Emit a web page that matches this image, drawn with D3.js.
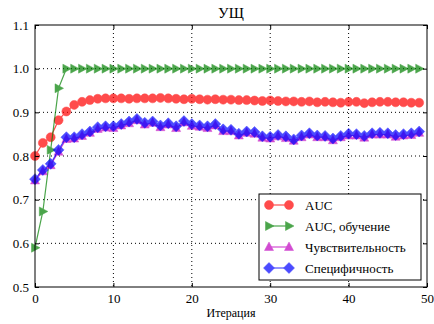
<!DOCTYPE html>
<html>
<head>
<meta charset="utf-8">
<script src="https://cdn.jsdelivr.net/npm/d3@7"></script>
<style>
  body { margin: 0; background: #fff; }
</style>
</head>
<body>
<div id="chart"></div>
<script>
// data
var iterations = d3.range(0, 50);
var aucValues = [0.800, 0.830, 0.843, 0.882, 0.902, 0.917, 0.924, 0.928, 0.931, 0.932,
  0.932, 0.932, 0.931, 0.932, 0.932, 0.932, 0.933, 0.932, 0.931, 0.930,
  0.931, 0.930, 0.929, 0.930, 0.929, 0.929, 0.928, 0.928, 0.927, 0.926,
  0.927, 0.926, 0.925, 0.925, 0.924, 0.925, 0.923, 0.924, 0.923, 0.922,
  0.924, 0.924, 0.921, 0.923, 0.924, 0.924, 0.923, 0.923, 0.922, 0.922];
var aucTrainValues = [0.590, 0.673, 0.814, 0.955, 1.0, 1.0, 1.0, 1.0, 1.0, 1.0,
  1.0, 1.0, 1.0, 1.0, 1.0, 1.0, 1.0, 1.0, 1.0, 1.0,
  1.0, 1.0, 1.0, 1.0, 1.0, 1.0, 1.0, 1.0, 1.0, 1.0,
  1.0, 1.0, 1.0, 1.0, 1.0, 1.0, 1.0, 1.0, 1.0, 1.0,
  1.0, 1.0, 1.0, 1.0, 1.0, 1.0, 1.0, 1.0, 1.0, 1.0];
var sensValues = [0.744, 0.765, 0.779, 0.810, 0.839, 0.840, 0.846, 0.853, 0.862, 0.865,
  0.864, 0.870, 0.875, 0.882, 0.872, 0.876, 0.866, 0.872, 0.864, 0.877,
  0.869, 0.867, 0.864, 0.870, 0.857, 0.857, 0.847, 0.853, 0.851, 0.842,
  0.840, 0.845, 0.841, 0.835, 0.843, 0.849, 0.843, 0.843, 0.836, 0.843,
  0.847, 0.847, 0.842, 0.849, 0.849, 0.849, 0.844, 0.847, 0.848, 0.853];
var specValues = [0.747, 0.768, 0.782, 0.814, 0.843, 0.843, 0.850, 0.856, 0.866, 0.868,
  0.868, 0.873, 0.879, 0.885, 0.876, 0.879, 0.870, 0.875, 0.868, 0.880,
  0.873, 0.870, 0.868, 0.873, 0.861, 0.860, 0.851, 0.856, 0.855, 0.845,
  0.844, 0.848, 0.845, 0.838, 0.847, 0.852, 0.847, 0.846, 0.840, 0.846,
  0.851, 0.850, 0.846, 0.852, 0.853, 0.852, 0.848, 0.850, 0.852, 0.856];
var seriesNames = ["AUC", "AUC, обучение", "Чувствительность", "Специфичность"];
var seriesColors = ["#ff0000", "#008000", "#bf00bf", "#0000ff"];
var seriesMarkers = ["circle", "triRight", "triUp", "diamond"];
var xTicks = [0, 10, 20, 30, 40, 50];
var yTicks = [0.5, 0.6, 0.7, 0.8, 0.9, 1.0, 1.1];

var W = 434, H = 324;
var margin = {top: 25, right: 7, bottom: 37, left: 35};
var width = W - margin.left - margin.right,
    height = H - margin.top - margin.bottom;

var svg = d3.select("#chart").append("svg")
  .attr("width", W).attr("height", H)
  .attr("font-family", "Liberation Serif");
var g = svg.append("g")
  .attr("transform", "translate(" + margin.left + "," + margin.top + ")");

var x = d3.scaleLinear().domain([0, 50]).range([0, width]);
var y = d3.scaleLinear().domain([0.5, 1.1]).range([height, 0]);

// grid
g.append("g").selectAll("line").data(xTicks.slice(1, -1)).enter().append("line")
  .attr("x1", d => x(d)).attr("x2", d => x(d))
  .attr("y1", 0).attr("y2", height)
  .attr("stroke", "#000").attr("stroke-width", 1).attr("stroke-dasharray", "1,3");
g.append("g").selectAll("line").data(yTicks.slice(1, -1)).enter().append("line")
  .attr("y1", d => y(d)).attr("y2", d => y(d))
  .attr("x1", 0).attr("x2", width)
  .attr("stroke", "#000").attr("stroke-width", 1).attr("stroke-dasharray", "1,3");

// marker shapes
function markerPath(kind) {
  if (kind == "circle") return d3.symbol().type(d3.symbolCircle).size(64)();
  if (kind == "diamond") return "M0,-5.5L5.5,0L0,5.5L-5.5,0Z";
  if (kind == "triUp") return "M0,-5L4.5,3.5L-4.5,3.5Z";
  return "M5,0L-3.5,4.5L-3.5,-4.5Z";
}

var allSeries = [aucValues, aucTrainValues, sensValues, specValues];
var line = d3.line().x((d, i) => x(iterations[i])).y(d => y(d));

var plot = g.append("g");
allSeries.forEach(function (vals, k) {
  var sg = plot.append("g").attr("opacity", 0.7);
  sg.append("path").datum(vals)
    .attr("d", line)
    .attr("fill", "none")
    .attr("stroke", seriesColors[k])
    .attr("stroke-width", 1.2);
  sg.selectAll("path.m").data(vals).enter().append("path")
    .attr("class", "m")
    .attr("d", markerPath(seriesMarkers[k]))
    .attr("transform", (d, i) => "translate(" + x(iterations[i]) + "," + y(d) + ")")
    .attr("fill", seriesColors[k])
    .attr("stroke", seriesColors[k])
    .attr("stroke-width", 0.5);
});

// axes with inward ticks
g.append("g").attr("transform", "translate(0," + height + ")")
  .call(d3.axisBottom(x).tickValues(xTicks).tickSize(-4).tickPadding(7).tickFormat(d3.format("d")));
g.append("g")
  .call(d3.axisLeft(y).tickValues(yTicks).tickSize(-4).tickPadding(6).tickFormat(d3.format(".1f")));
g.append("g")
  .call(d3.axisTop(x).tickValues(xTicks).tickSize(-4).tickFormat(""));
g.append("g").attr("transform", "translate(" + width + ",0)")
  .call(d3.axisRight(y).tickValues(yTicks).tickSize(-4).tickFormat(""));
g.selectAll(".domain").remove();
g.selectAll(".tick line").attr("stroke", "#000");
// the axis groups carry their own font attrs, override them
g.selectAll(".tick").attr("font-family", "Liberation Serif").attr("font-size", 13);
g.selectAll(".tick text").attr("fill", "#000");

g.append("rect").attr("width", width).attr("height", height)
  .attr("fill", "none").attr("stroke", "#000").attr("stroke-width", 1);

// title and label
svg.append("text").attr("x", margin.left + width / 2).attr("y", 18)
  .attr("text-anchor", "middle").attr("font-size", 15).text("УЩ");
svg.append("text").attr("x", margin.left + width / 2).attr("y", 317)
  .attr("text-anchor", "middle").attr("font-size", 12).text("Итерация");

// legend
var lg = svg.append("g").attr("transform", "translate(259,194)");
lg.append("rect").attr("width", 162).attr("height", 86)
  .attr("fill", "#fff").attr("stroke", "#000").attr("stroke-width", 1);
seriesNames.forEach(function (name, k) {
  var ry = 11 + k * 21;
  var row = lg.append("g").attr("opacity", 0.7);
  row.append("line").attr("x1", 10).attr("x2", 30).attr("y1", ry).attr("y2", ry)
    .attr("stroke", seriesColors[k]).attr("stroke-width", 1.2);
  [10, 30].forEach(function (mx) {
    row.append("path").attr("d", markerPath(seriesMarkers[k]))
      .attr("transform", "translate(" + mx + "," + ry + ")")
      .attr("fill", seriesColors[k]).attr("stroke", seriesColors[k]).attr("stroke-width", 0.5);
  });
  lg.append("text").attr("x", 46).attr("y", ry + 4.5)
    .attr("font-size", 13).text(name);
});
</script>
</body>
</html>
